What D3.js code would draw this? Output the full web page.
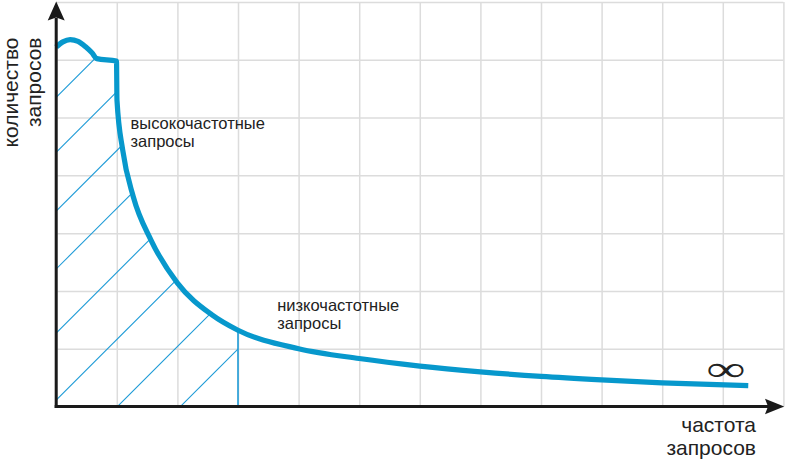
<!DOCTYPE html>
<html>
<head>
<meta charset="utf-8">
<script src="https://cdn.jsdelivr.net/npm/d3@7/dist/d3.min.js"></script>
<style>
  html, body { margin: 0; padding: 0; background: #fff; }
  svg { display: block; }
  text { font-family: "Liberation Sans", Arial, sans-serif; fill: #222; }
</style>
</head>
<body>
<svg id="chart" width="791" height="469"></svg>
<script>
// ---- data (x: frequency units, y: count units) ----
const curveX = [0, 0.11, 0.23, 0.36, 0.49, 0.59, 0.67, 0.995, 1.003, 1.097, 1.272, 1.564, 1.998, 2.566, 3.0, 4.0, 5.0, 6.0, 7.0, 8.0, 9.0, 10.0, 11.42];
const curveY = [6.22, 6.31, 6.35, 6.32, 6.22, 6.12, 6.02, 5.98, 5.30, 4.44, 3.63, 2.88, 2.14, 1.59, 1.32, 1.0, 0.83, 0.70, 0.60, 0.52, 0.46, 0.41, 0.36];
const hatchIntercepts = [5.35, 4.40, 3.38, 2.38, 1.27, 0.11, -1.06, -2.15]; // y where each hatch line meets x = 0
const hatchLimitX = 3;           // hatched region ends here
const gridXTicks = d3.range(0, 13);
const gridYTicks = d3.range(0, 8);
const xTitle = ["частота", "запросов"];
const yTitle = ["количество", "запросов"];
const highLabel = ["высокочастотные", "запросы"];
const lowLabel = ["низкочастотные", "запросы"];
const infinityLabel = "∞";

const points = curveX.map((x, i) => ({ x, y: curveY[i] }));

const svg = d3.select("#chart");
const x = d3.scaleLinear().domain([0, 12]).range([56.2, 783.4]);
const y = d3.scaleLinear().domain([0, 7]).range([406.5, 2]);

// ---- grid ----
const gx = svg.append("g").attr("transform", `translate(0,${y(0)})`)
  .call(d3.axisBottom(x).tickValues(gridXTicks).tickSize(-(y(0) - y(7))).tickFormat(""));
const gy = svg.append("g").attr("transform", `translate(${x(0)},0)`)
  .call(d3.axisLeft(y).tickValues(gridYTicks).tickSize(-(x(12) - x(0))).tickFormat(""));
[gx, gy].forEach(g => {
  g.select(".domain").remove();
  g.selectAll(".tick line").attr("stroke", "#dcdcdc").attr("stroke-width", 1.5);
});

// ---- hatched region ----
const curveGen = d3.curveMonotoneX;
const inside = points.filter(d => d.x <= hatchLimitX);
const area = d3.area().x(d => x(d.x)).y0(y(0)).y1(d => y(d.y)).curve(curveGen);
svg.append("clipPath").attr("id", "hclip").append("path").attr("d", area(inside));

const hg = svg.append("g").attr("clip-path", "url(#hclip)");
hg.selectAll("line").data(hatchIntercepts).join("line")
  .attr("x1", x(0)).attr("y1", d => y(d))
  .attr("x2", x(0) + 600).attr("y2", d => y(d) - 600)
  .attr("stroke", "#1e9bd7").attr("stroke-width", 1.1);

const lastIn = inside[inside.length - 1];
svg.append("line")
  .attr("x1", x(lastIn.x)).attr("x2", x(lastIn.x))
  .attr("y1", y(lastIn.y)).attr("y2", y(0))
  .attr("stroke", "#1e9bd7").attr("stroke-width", 1.6);

// ---- main curve ----
svg.append("path")
  .attr("d", d3.line().x(d => x(d.x)).y(d => y(d.y)).curve(curveGen)(points))
  .attr("fill", "none").attr("stroke", "#0798cc").attr("stroke-width", 5.2)
  .attr("stroke-linejoin", "miter");

// ---- axes with arrows ----
const axisColor = "#1a1a1a";
svg.append("line").attr("x1", x(0) - 1.5).attr("x2", 768).attr("y1", y(0)).attr("y2", y(0))
  .attr("stroke", axisColor).attr("stroke-width", 3);
svg.append("line").attr("x1", x(0)).attr("x2", x(0)).attr("y1", y(0) + 1.5).attr("y2", 18)
  .attr("stroke", axisColor).attr("stroke-width", 3);
svg.append("path")
  .attr("d", `M${x(12) + 0.8},${y(0)} L765,${y(0) - 7.8} L768,${y(0)} L765,${y(0) + 7.8} Z`)
  .attr("fill", axisColor);
svg.append("path")
  .attr("d", `M${x(0)},1.5 L${x(0) - 8.5},20.5 L${x(0)},17.5 L${x(0) + 8.5},20.5 Z`)
  .attr("fill", axisColor);

// ---- titles ----
const xt = svg.append("text").attr("text-anchor", "end").style("font-size", "21px");
xTitle.forEach((t, i) => xt.append("tspan").attr("x", 756).attr("y", 431.7 + i * 23.3).text(t));

const yt = svg.append("text").attr("text-anchor", "end").style("font-size", "21px")
  .attr("transform", "translate(0,37.5) rotate(-90)");
yTitle.forEach((t, i) => yt.append("tspan").attr("x", 0).attr("y", 17.5 + i * 23.5).text(t));

function label(lines, lx, ly) {
  const t = svg.append("text").style("font-size", "16.5px");
  lines.forEach((s, i) => t.append("tspan").attr("x", lx).attr("y", ly + i * 18.3).text(s));
}
label(highLabel, 130.5, 128.8);
label(lowLabel, 277.2, 310.8);

// ---- infinity sign ----
svg.append("text")
  .attr("transform", `translate(${x(11.05)},369.7) scale(1,0.66)`)
  .attr("x", 0).attr("y", 17).attr("text-anchor", "middle")
  .style("font-size", "55px").style("font-family", "'Liberation Serif', serif")
  .text(infinityLabel);
</script>
</body>
</html>
